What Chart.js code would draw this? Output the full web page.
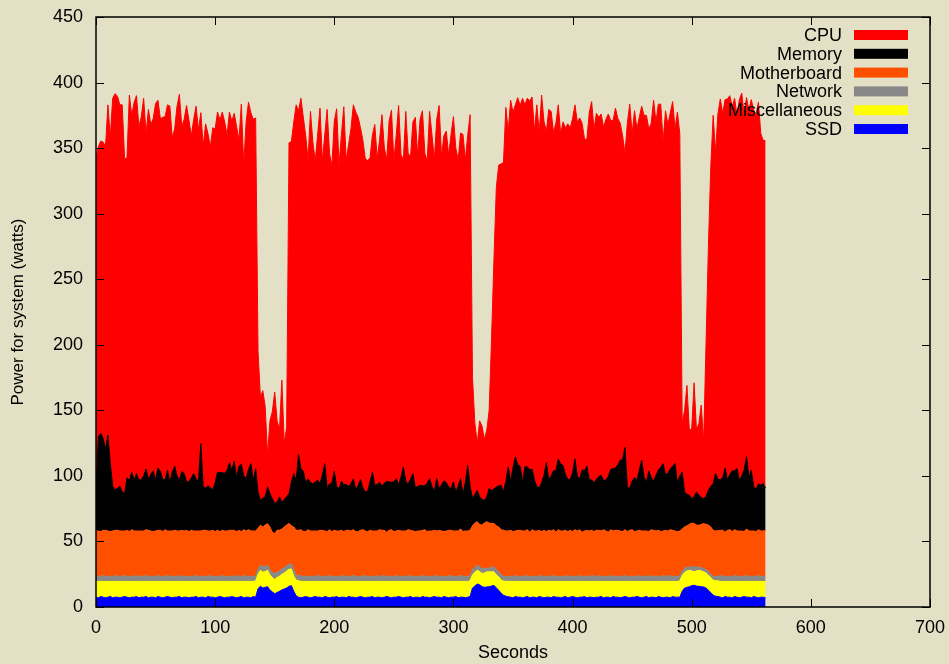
<!DOCTYPE html>
<html>
<head>
<meta charset="utf-8">
<script src="https://cdn.jsdelivr.net/npm/chart.js@4.4.1/dist/chart.umd.min.js"></script>
<style>
  html, body { margin: 0; padding: 0; background: #e3e0c5; }
  #wrap { width: 949px; height: 664px; }
</style>
</head>
<body>
<div id="wrap"><canvas id="powerChart" width="949" height="664"></canvas></div>
<script>
// Power per component (watts), sampled every 2 seconds from 0 to 562 s.
// Read off the stacked gnuplot picture, one row = 20 seconds.
const ssd = [
  7.5, 7, 8, 7.5, 7, 7.5, 8, 7, 7.5, 7.5,
  7, 7.5, 8, 7.5, 7, 7.5, 7.5, 8, 7, 7.5,
  7.5, 8, 7, 7.5, 7.5, 7, 8, 7.5, 7, 7.5,
  8, 7.5, 7, 7.5, 7.5, 8, 7, 7.5, 7.5, 7,
  7.5, 7.5, 8, 7, 7.5, 7.5, 7, 8, 7.5, 7.5,
  7, 7.5, 8, 7.5, 7, 7.5, 7.5, 8, 7.5, 7,
  7.5, 8, 7, 7.5, 7.5, 7, 8, 7.5, 14, 15.8,
  14.5, 15, 15.5, 13, 11.5, 10.2, 11, 12, 13, 13.8,
  14.5, 15.8, 16.3, 12, 8.5, 7.5, 7, 7.5, 8, 7.5,
  7, 7.5, 8, 7.5, 7.5, 7, 8, 7.5, 7, 7.5,
  7.5, 8, 7, 7.5, 7.5, 7, 8, 7.5, 7.5, 7,
  7.5, 8, 7.5, 7, 7.5, 7.5, 8, 7, 7.5, 7.5,
  7, 7.5, 8, 7.5, 7, 7.5, 7.5, 8, 7.5, 7,
  7.5, 7.5, 8, 7, 7.5, 7.5, 7, 8, 7.5, 7.5,
  7, 7.5, 8, 7.5, 7.5, 7, 8, 7.5, 7, 7.5,
  7.5, 8, 7, 7.5, 7.5, 7, 7.5, 8, 14.5, 16,
  17.5, 17, 15.5, 15, 15.3, 15.5, 16, 16.5, 14.5, 12.8,
  10.5, 9, 8.2, 7.8, 7.5, 7, 8, 7.5, 7.5, 7,
  7.5, 8, 7, 7.5, 7.5, 7, 8, 7.5, 7, 7.5,
  7.5, 7, 8, 7.5, 7.5, 7, 7.5, 8, 7, 7.5,
  8, 7.5, 7, 7.5, 7.5, 8, 7, 7.5, 7.5, 7,
  7.5, 7.5, 8, 7, 7.5, 7.5, 7, 8, 7.5, 7.5,
  7, 7.5, 8, 7.5, 7, 7.5, 7.5, 8, 7.5, 7,
  7.5, 8, 7, 7.5, 7.5, 7, 8, 7.5, 7, 7.5,
  7.5, 7, 8, 7.5, 7.5, 7.5, 12, 14.5, 15, 15.5,
  16.3, 16.6, 16, 15.8, 15.5, 15.3, 14.5, 12.8, 11, 9,
  8.2, 8, 7.5, 7, 8, 7.5, 7.5, 7, 8, 7.5,
  7, 7.5, 8, 7.5, 7.5, 7, 8, 7.5, 7, 7.5,
  7.5, 7
];

const misc = [
  12, 12.5, 11.5, 12, 12.5, 12, 11.5, 12.5, 12, 12,
  12.5, 12, 11.5, 12, 12.5, 12, 12, 11.5, 12.5, 12,
  12, 11.5, 12.5, 12, 12, 12.5, 11.5, 12, 12.5, 12,
  11.5, 12, 12.5, 12, 12, 11.5, 12.5, 12, 12, 12.5,
  12, 12, 11.5, 12.5, 12, 12, 12.5, 11.5, 12, 12,
  12.5, 12, 11.5, 12, 12.5, 12, 12, 11.5, 12, 12.5,
  12, 11.5, 12.5, 12, 12, 12.5, 11.5, 12.5, 11, 12.2,
  12, 12, 12.5, 11.5, 11, 10.8, 11.5, 11.5, 12, 12.2,
  13, 13, 12.7, 11.5, 12, 12.5, 12.5, 12, 11.5, 12,
  12.5, 12, 11.5, 12, 12, 12.5, 11.5, 12, 12.5, 12,
  12, 11.5, 12.5, 12, 12, 12.5, 11.5, 12, 12, 12.5,
  12, 11.5, 12, 12.5, 12, 12, 11.5, 12.5, 12, 12,
  12.5, 12, 11.5, 12, 12.5, 12, 12, 11.5, 12, 12.5,
  12, 12, 11.5, 12.5, 12, 12, 12.5, 11.5, 12, 12,
  12.5, 12, 11.5, 12, 12, 12.5, 11.5, 12, 12.5, 12,
  12, 11.5, 12.5, 12, 12, 12.5, 12, 12, 10, 10.5,
  10.5, 10, 10, 11, 11.5, 11.3, 10.8, 10.3, 10, 10.2,
  10, 10.8, 11.3, 11.9, 12, 12.5, 11.5, 12, 12, 12.5,
  12, 11.5, 12.5, 12, 12, 12.5, 11.5, 12, 12.5, 12,
  12, 12.5, 11.5, 12, 12, 12.5, 12, 11.5, 12.5, 12,
  11.5, 12, 12.5, 12, 12, 11.5, 12.5, 12, 12, 12.5,
  12, 12, 11.5, 12.5, 12, 12, 12.5, 11.5, 12, 12,
  12.5, 12, 11.5, 12, 12.5, 12, 12, 11.5, 12, 12.5,
  12, 11.5, 12.5, 12, 12, 12.5, 11.5, 12, 12.5, 12,
  12, 12.5, 11.5, 12, 12, 12.5, 12, 12, 12.5, 12.5,
  11.2, 10.2, 11.5, 12.2, 12, 11.5, 11.5, 11.4, 11.5, 11.5,
  11.8, 12, 12, 12.5, 11.5, 12, 12, 12.5, 11.5, 12,
  12.5, 12, 11.5, 12, 12, 12.5, 11.5, 12, 12.5, 12,
  12, 12.5
];

const network = [
  4, 3.5, 4, 4.5, 3.5, 4, 4, 3.5, 4.5, 4,
  3.5, 4, 4.5, 4, 3.5, 4, 4, 4.5, 3.5, 4,
  4, 4.5, 3.5, 4, 4, 3.5, 4.5, 4, 3.5, 4,
  4.5, 4, 3.5, 4, 4, 4.5, 3.5, 4, 4, 3.5,
  4, 4, 4.5, 3.5, 4, 4, 3.5, 4.5, 4, 4,
  3.5, 4, 4, 4.5, 3.5, 4, 4, 3.5, 4.5, 4,
  4, 3.5, 4.5, 4, 4, 3.5, 4, 3.5, 4, 3.8,
  4.3, 4, 3.8, 4, 4, 4.5, 4, 4, 4, 4,
  4, 3.7, 4, 5, 3.5, 4, 4.5, 3.5, 4, 4,
  4, 3.5, 4, 4.5, 4, 3.5, 4, 4, 4.5, 3.5,
  4, 4, 3.5, 4.5, 4, 4, 3.5, 4, 4.5, 4,
  3.5, 4, 4, 4.5, 3.5, 4, 4, 3.5, 4.5, 4,
  4, 4.5, 3.5, 4, 4, 3.5, 4.5, 4, 4, 3.5,
  4, 4, 4.5, 3.5, 4, 4, 3.5, 4.5, 4, 4,
  3.5, 4, 4, 4.5, 3.5, 4, 4, 3.5, 4.5, 4,
  4, 3.5, 4, 4.5, 4, 3.5, 4, 3.5, 4, 4,
  3.8, 3.5, 3.8, 3.5, 2.7, 2.7, 3.7, 3.8, 4, 3.8,
  4, 3.7, 3.7, 3.7, 4, 3.5, 4.5, 4, 3.5, 4,
  4, 4.5, 3.5, 4, 4, 3.5, 4.5, 4, 4, 3.5,
  4, 4, 4.5, 3.5, 4, 4, 3.5, 4.5, 4, 4,
  3.5, 4, 4, 4.5, 3.5, 4, 4, 3.5, 4.5, 4,
  4, 4.5, 3.5, 4, 4, 3.5, 4.5, 4, 4, 3.5,
  4, 4, 4.5, 3.5, 4, 4, 3.5, 4.5, 4, 4,
  3.5, 4, 4, 4.5, 3.5, 4, 4, 3.5, 4.5, 4,
  4, 4.5, 3.5, 4, 4, 3.5, 3.5, 3, 3, 2.6,
  3.1, 3.8, 3.1, 2.6, 2.5, 2.5, 2.5, 2.6, 2.5, 2.5,
  3.3, 3.7, 4, 4.5, 3.5, 4, 4, 3.5, 4.5, 4,
  4, 3.5, 4, 4.5, 4, 3.5, 4, 4, 4.5, 3.5,
  4, 4
];

const motherboard = [
  34.5, 35, 34, 34.5, 35.5, 34.5, 34, 35, 34.5, 35,
  35, 34.5, 34, 35, 34.5, 35.5, 34.5, 34, 35, 34.5,
  34.5, 35, 35.5, 34.5, 34, 35, 34.5, 35, 34.5, 35.5,
  34, 34.5, 35, 35, 34.5, 34, 35.5, 34.5, 35, 34.5,
  35, 34.5, 34, 35, 34.5, 35, 35.5, 34, 34.5, 35,
  34.5, 35, 34, 34.5, 35, 34.5, 35, 35.5, 34.5, 34,
  35, 34.5, 35, 34.5, 35.5, 35, 34.5, 34.5, 31, 30.6,
  30.2, 31.5, 31.7, 32.5, 30.5, 30.5, 32.1, 31.1, 30.5, 31,
  31, 31.2, 29, 32.5, 34.6, 34.5, 35, 34.5, 34, 35.5,
  34.5, 35, 34.5, 34, 35, 35.5, 34.5, 34, 35, 34.5,
  35, 34.5, 35, 34.5, 34, 35, 35.5, 34.5, 35, 34,
  34.5, 35, 35.5, 34, 34.5, 35, 34.5, 35, 34, 35.5,
  35, 34.5, 34, 35, 35.5, 34.5, 34, 35, 34.5, 35,
  34.5, 35.5, 34.5, 35, 34, 34.5, 35, 34.5, 35.5, 34,
  35, 34.5, 35, 34, 35.5, 34.5, 34, 35, 34.5, 35,
  34.5, 35, 34.5, 35.5, 34, 35, 34.5, 35, 33.5, 33.5,
  33.2, 32.5, 33.1, 34.5, 35.5, 34.5, 33.2, 33.1, 33.5, 34.2,
  34.5, 35.1, 34.8, 34.6, 35, 34.5, 34, 35, 35.5, 34.5,
  34.5, 35, 34, 35.5, 34.5, 35, 34.5, 34, 35, 34.5,
  35, 34.5, 35, 34, 35.5, 34.5, 35, 34.5, 34, 35,
  34.5, 35.5, 34.5, 35, 34, 34.5, 35, 35, 34.5, 34,
  35, 34.5, 35, 35.5, 34.5, 34, 35, 34.5, 35, 35.5,
  34.5, 34, 35, 34.5, 35, 35.5, 34.5, 34, 35, 34.5,
  35, 34.5, 34, 35, 35.5, 34.5, 35, 34.5, 34, 35,
  34.5, 35, 35.5, 34.5, 34, 34.5, 32, 31.5, 31.5, 32.4,
  33.4, 33.1, 31.9, 31.8, 33, 34.4, 34.5, 35.7, 36, 35.6,
  34.7, 34.5, 35, 34.5, 34, 35, 35.5, 34.5, 35, 34.5,
  34.5, 35, 34, 35.5, 34.5, 35, 34.5, 34, 35, 35,
  34.5, 35
];

const memory = [
  30, 72, 75, 70, 62, 73, 52, 34, 31, 32,
  34, 30, 28.5, 40, 39, 43.8, 38.7, 43.8, 39, 39,
  42, 46.3, 39, 43, 46.3, 39, 47.6, 45, 40, 38,
  46.3, 37.4, 45, 48.9, 42, 38.7, 45, 43.8, 37, 38,
  40, 43.8, 40, 38, 66.7, 33, 32.3, 34.5, 33, 31,
  37.4, 44.3, 45, 44, 44, 46.3, 51.4, 46, 52.7, 41.2,
  48.9, 51.4, 41.2, 40, 46, 51.4, 38.7, 47.6, 27.8, 19,
  22, 21.5, 28.1, 25.5, 25.7, 23, 21.4, 25.4, 20.6, 21,
  21.5, 22.8, 33.4, 40.8, 38.1, 57.8, 46.3, 46.3, 37.4, 38.7,
  37, 36.1, 37.4, 38.7, 36.1, 42, 51.4, 33.6, 34.9, 37,
  45, 33.6, 32.3, 37.4, 36, 34.9, 33.6, 36, 38.7, 32.3,
  35, 38.7, 32, 29.8, 31, 37, 45, 34.9, 35.5, 36.1,
  33.6, 36, 38.7, 37, 36.1, 38, 40, 34.9, 41, 48.9,
  38, 34.9, 39, 43.8, 33.6, 34, 34.9, 34, 33.6, 37,
  40, 34, 30, 40, 32, 35, 38.7, 37, 33, 32,
  37.4, 30, 34, 38.7, 28.5, 37, 50.1, 33.6, 20.7, 22,
  24, 21, 19.6, 17.4, 19, 26.3, 25.3, 26.3, 29.6, 31.5,
  33.9, 29.2, 38, 48.9, 37.4, 48.9, 56.5, 50, 48.9, 37.4,
  48.9, 48, 47.6, 46.3, 38.7, 34, 32.3, 37.4, 42, 52.7,
  38.7, 42, 45, 47, 54, 51, 50, 42.5, 40, 38.7,
  45, 54, 42, 38.7, 47.6, 46, 48.9, 39, 38.5, 37.4,
  39, 41, 42.5, 37.4, 39, 42.5, 46, 47.6, 47.6, 50,
  54, 55, 62.9, 33.6, 32.3, 37, 41.2, 38.7, 46, 54,
  41, 37.4, 46.3, 40, 37.4, 42.5, 46, 49, 51.4, 42.5,
  44, 46.3, 49, 51.4, 37.4, 42, 43.5, 26.8, 24, 22.3,
  18.7, 20.3, 25.3, 22.9, 20.5, 19, 21, 26.5, 31, 35.5,
  43.8, 39, 38.7, 40, 48.9, 38.7, 42, 46.3, 45, 47.6,
  38.7, 42, 47, 55.2, 41.2, 46.3, 34, 32.3, 34.9, 35,
  36.1, 32.3
];

const cpu = [
  255, 221, 223, 226, 231, 252, 249, 296, 302, 299,
  291, 295, 255.5, 244, 294, 272.2, 288.3, 288.2, 269, 277,
  288, 255.7, 282, 267, 268.7, 287, 280.4, 269, 276, 277,
  278.7, 286.6, 255, 257.1, 282, 294.3, 263, 270.2, 287, 276,
  261, 270.2, 284, 268, 252.3, 260, 277.7, 268.5, 260, 276,
  269.6, 274.7, 269, 275, 268, 255.7, 267.6, 266, 265.3, 267.8,
  249.1, 274.6, 236.8, 272, 280, 267.6, 275.3, 267.4, 107.2, 78.6,
  82, 69, 24.4, 55.5, 66.3, 85, 62, 51, 92.9, 43,
  53, 267.5, 259.6, 268.2, 286.3, 262.2, 282.7, 269.7, 264.6, 243.3,
  283, 260.9, 244.6, 263.3, 285.9, 240, 250.6, 288.4, 252.1, 242,
  267, 288.4, 246.7, 264.6, 288, 247.1, 260.4, 271, 285.3, 287.7,
  281, 268.3, 265, 254.2, 252, 247, 257, 275.1, 248.5, 260.9,
  283.4, 256, 245.3, 275, 283.9, 245, 262, 289.1, 246, 234.1,
  282, 252.1, 246, 268.2, 282.4, 252, 279.1, 286, 253.4, 246,
  280, 268, 253, 274, 292, 251, 263.3, 268, 253, 270,
  278.6, 262, 249, 263.3, 274.5, 246, 251.9, 283.4, 92.3, 54,
  36, 58, 56, 46.6, 51, 59.7, 116, 175, 228.4, 244.5,
  245.1, 251.2, 285, 256.1, 290.6, 271.1, 268.5, 280, 275.1, 292.6,
  276.1, 281, 281.4, 283.7, 266.3, 291, 270.7, 295.6, 270, 252.3,
  282.3, 278, 258, 265, 270, 252, 262, 264.5, 271, 268.3,
  270, 270, 270, 275.3, 264.4, 253, 249.1, 280, 288.5, 269.6,
  279, 274, 275.5, 269.6, 275, 276.5, 266, 265.4, 274.4, 264,
  257, 247, 224.1, 278.4, 292.7, 265, 279.8, 268.3, 269, 270,
  276, 279.6, 260.7, 270, 290.6, 269.5, 279, 277, 245.6, 277.5,
  266, 271.7, 278, 255.6, 282.6, 261, 37, 62.2, 83, 49.7,
  53.3, 87, 47.2, 54.7, 70.5, 43.3, 116, 186, 244, 280.9,
  245.2, 279, 290.3, 278, 281.1, 290.3, 289, 277.7, 284, 269.4,
  290.3, 292, 271, 273.8, 279.8, 282.7, 287, 285.7, 291.1, 268,
  261.9, 264.7
];

// sample clock: one reading every 2 s
const seconds = cpu.map((v, i) => i * 2);

const xTicks = [0, 100, 200, 300, 400, 500, 600, 700];
const yTicks = [0, 50, 100, 150, 200, 250, 300, 350, 400, 450];

const FONT = '"Liberation Sans", Arial, Helvetica, sans-serif';

function pts(values) {
  return values.map((v, i) => ({ x: seconds[i], y: v }));
}

function layer(label, values, color, fill) {
  return {
    label: label,
    data: pts(values),
    backgroundColor: color,
    borderColor: color,
    borderWidth: 1,
    pointRadius: 0,
    tension: 0,
    fill: fill
  };
}

// gnuplot style frame: box with inward ticks on all four sides
const framePlugin = {
  id: 'frame',
  afterDatasetsDraw(chart) {
    const ctx = chart.ctx;
    const a = chart.chartArea;
    const xs = chart.scales.x;
    const ys = chart.scales.y;
    ctx.save();
    ctx.strokeStyle = '#000';
    ctx.lineWidth = 1;
    ctx.beginPath();
    yTicks.forEach(v => {
      const y = Math.round(ys.getPixelForValue(v)) + 0.5;
      ctx.moveTo(a.left, y); ctx.lineTo(a.left + 8, y);
      ctx.moveTo(a.right, y); ctx.lineTo(a.right - 8, y);
    });
    xTicks.forEach(v => {
      const x = Math.round(xs.getPixelForValue(v)) + 0.5;
      ctx.moveTo(x, a.bottom); ctx.lineTo(x, a.bottom - 8);
      ctx.moveTo(x, a.top); ctx.lineTo(x, a.top + 8);
    });
    ctx.stroke();
    ctx.lineWidth = 1.5;
    ctx.strokeRect(a.left, a.top, a.right - a.left, a.bottom - a.top);
    ctx.restore();
  }
};

// legend in the top right corner: label, then colour bar
const keyPlugin = {
  id: 'key',
  afterDraw(chart) {
    const ctx = chart.ctx;
    const items = chart.data.datasets.slice().reverse();
    ctx.save();
    ctx.font = '18px ' + FONT;
    ctx.textAlign = 'right';
    ctx.textBaseline = 'middle';
    items.forEach((ds, i) => {
      const y = 35 + i * 18.8;
      ctx.fillStyle = '#000';
      ctx.fillText(ds.label, 842, y + 1);
      ctx.fillStyle = ds.backgroundColor;
      ctx.fillRect(854, y - 5, 54, 10);
    });
    ctx.restore();
  }
};

const ctx = document.getElementById('powerChart').getContext('2d');
window.powerChart = new Chart(ctx, {
  type: 'line',
  data: {
    datasets: [
      layer('SSD', ssd, '#0000ff', 'origin'),
      layer('Miscellaneous', misc, '#ffff00', '-1'),
      layer('Network', network, '#888888', '-1'),
      layer('Motherboard', motherboard, '#ff5000', '-1'),
      layer('Memory', memory, '#000000', '-1'),
      layer('CPU', cpu, '#ff0000', '-1')
    ]
  },
  plugins: [framePlugin, keyPlugin],
  options: {
    responsive: false,
    animation: false,
    devicePixelRatio: 1,
    layout: { padding: { top: 17, right: 19, left: 0, bottom: 0 } },
    plugins: {
      legend: { display: false },
      tooltip: { enabled: false }
    },
    scales: {
      x: {
        type: 'linear',
        min: 0,
        max: 700,
        afterFit: s => { s.height = 57; s.paddingLeft = 0; s.paddingRight = 0; },
        afterBuildTicks: s => { s.ticks = xTicks.map(v => ({ value: v })); },
        grid: { display: false, drawTicks: false },
        border: { display: false },
        ticks: { color: '#000', padding: 10, maxRotation: 0, font: { family: FONT, size: 18 } },
        title: { display: true, text: 'Seconds', color: '#000', padding: { top: 0, bottom: 0 }, font: { family: FONT, size: 18 } }
      },
      y: {
        stacked: true,
        min: 0,
        max: 450,
        afterFit: s => { s.width = 96; s.paddingTop = 0; s.paddingBottom = 0; },
        afterBuildTicks: s => { s.ticks = yTicks.map(v => ({ value: v })); },
        grid: { display: false, drawTicks: false },
        border: { display: false },
        ticks: { color: '#000', padding: 13, font: { family: FONT, size: 18 } },
        title: { display: true, text: 'Power for system (watts)', color: '#000', padding: { top: 8, bottom: 0 }, font: { family: FONT, size: 17 } }
      }
    }
  }
});
</script>
</body>
</html>
